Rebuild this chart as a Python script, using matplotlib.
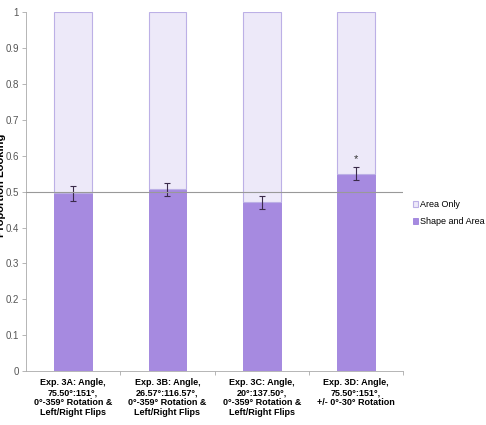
import matplotlib
matplotlib.use('Agg')
import matplotlib.pyplot as plt
import numpy as np

# data
categories = ['Exp. 3A: Angle,\n75.50\u00b0:151\u00b0,\n0\u00b0-359\u00b0 Rotation &\nLeft/Right Flips',
              'Exp. 3B: Angle,\n26.57\u00b0:116.57\u00b0,\n0\u00b0-359\u00b0 Rotation &\nLeft/Right Flips',
              'Exp. 3C: Angle,\n20\u00b0:137.50\u00b0,\n0\u00b0-359\u00b0 Rotation &\nLeft/Right Flips',
              'Exp. 3D: Angle,\n75.50\u00b0:151\u00b0,\n+/- 0\u00b0-30\u00b0 Rotation']
shapeArea = [0.495, 0.507, 0.470, 0.550]
errors = [0.020, 0.018, 0.017, 0.018]
areaOnly = [1 - v for v in shapeArea]
significant = [False, False, False, True]

plt.rcParams['font.family'] = ['Liberation Sans', 'DejaVu Sans']

def main():
	fig = plt.figure(figsize=(4.86, 4.25), dpi=100)
	ax = fig.add_axes([0.0535, 0.127, 0.776, 0.844])
	x = np.arange(len(categories))
	width = 0.40

	ax.bar(x, shapeArea, width, color='#a68ae0', edgecolor='#9d80dc', linewidth=0.6,
	       label='Shape and Area', zorder=2)
	ax.bar(x, areaOnly, width, bottom=shapeArea, color='#ede9f9', edgecolor='#bcb0e6',
	       linewidth=0.8, label='Area Only', zorder=2)
	ax.errorbar(x, shapeArea, yerr=errors, fmt='none', ecolor='#3a2a4a', elinewidth=0.8,
	            capsize=2.5, capthick=0.8, zorder=3)
	for i in range(len(x)):
		if significant[i]:
			ax.text(x[i], shapeArea[i] + errors[i] + 0.01, '*', ha='center', va='bottom',
			        fontsize=8, color='#333333')

	ax.axhline(0.5, color='#999999', linewidth=0.8, zorder=4)

	ax.set_xlim(-0.5, 3.5)
	ax.set_ylim(0, 1)
	ax.set_yticks(np.arange(0, 1.01, 0.1))
	ax.set_yticklabels(['0', '0.1', '0.2', '0.3', '0.4', '0.5', '0.6', '0.7', '0.8', '0.9', '1'])
	ax.tick_params(axis='y', labelsize=7, labelcolor='#555555', color='#aaaaaa',
	               length=3, width=0.6, pad=2)
	ax.set_xticks(x)
	ax.set_xticklabels(categories, fontsize=6.5, fontweight='bold', linespacing=1.15)
	ax.tick_params(axis='x', length=0, pad=5)
	ax.set_xticks([0.5, 1.5, 2.5, 3.5], minor=True)
	ax.tick_params(axis='x', which='minor', length=3, color='#aaaaaa', width=0.6)

	for side in ['top', 'right']:
		ax.spines[side].set_visible(False)
	for side in ['left', 'bottom']:
		ax.spines[side].set_color('#aaaaaa')
		ax.spines[side].set_linewidth(0.6)

	# y label sits half outside the figure, as in the original
	fig.text(0.0015, 0.565, 'Proportion Looking', rotation=90, ha='center', va='center',
	         fontsize=8, fontweight='bold')

	handles, labels = ax.get_legend_handles_labels()
	ax.legend(handles[::-1], labels[::-1], loc='center left', bbox_to_anchor=(1.022, 0.44),
	          frameon=False, fontsize=6.5, handlelength=0.5, handleheight=0.5,
	          handletextpad=0.2, labelspacing=0.9, borderpad=0.2, borderaxespad=0.0)

	fig.savefig('out.png', dpi=100)

if __name__ == "__main__":
	main()
